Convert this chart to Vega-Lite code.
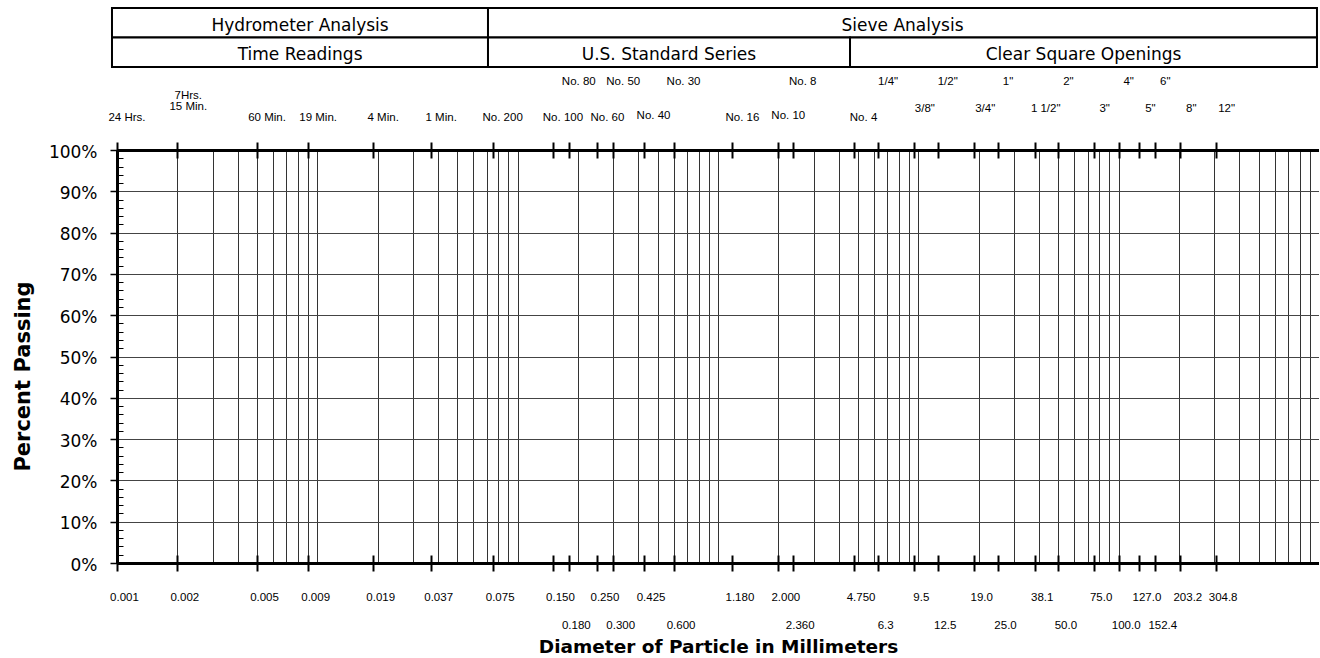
{
  "$schema": "https://vega.github.io/schema/vega-lite/v6.json",
  "background": "white",
  "padding": {"left": 12, "top": 7, "right": 0, "bottom": 0},
  "config": {"view": {"stroke": null}},
  "spacing": 83,
  "bounds": "flush",
  "datasets": {
    "header": [
      {"row": "r1", "start": 0.000944, "end": 0.0711, "mid": 0.0082, "title": "Hydrometer Analysis"},
      {"row": "r1", "start": 0.0711, "end": 977, "mid": 8.34, "title": "Sieve Analysis"},
      {"row": "r2", "start": 0.000944, "end": 0.0711, "mid": 0.0082, "title": "Time Readings"},
      {"row": "r2", "start": 0.0711, "end": 4.56, "mid": 0.569, "title": "U.S. Standard Series"},
      {"row": "r2", "start": 4.56, "end": 977, "mid": 66.8, "title": "Clear Square Openings"}
    ],
    "toplabels": [
      {"mm": 0.18, "label": "No. 80", "row": "u"},
      {"mm": 0.3, "label": "No. 50", "row": "u"},
      {"mm": 0.6, "label": "No. 30", "row": "u"},
      {"mm": 2.36, "label": "No. 8", "row": "u"},
      {"mm": 6.3, "label": "1/4\"", "row": "u"},
      {"mm": 12.5, "label": "1/2\"", "row": "u"},
      {"mm": 25, "label": "1\"", "row": "u"},
      {"mm": 50, "label": "2\"", "row": "u"},
      {"mm": 100, "label": "4\"", "row": "u"},
      {"mm": 152.4, "label": "6\"", "row": "u"},
      {"mm": 0.002, "label": "7Hrs.", "row": "h1"},
      {"mm": 0.002, "label": "15 Min.", "row": "h2"},
      {"mm": 9.5, "label": "3/8\"", "row": "sq"},
      {"mm": 19, "label": "3/4\"", "row": "sq"},
      {"mm": 38.1, "label": "1 1/2\"", "row": "sq"},
      {"mm": 75, "label": "3\"", "row": "sq"},
      {"mm": 127, "label": "5\"", "row": "sq"},
      {"mm": 203.2, "label": "8\"", "row": "sq"},
      {"mm": 304.8, "label": "12\"", "row": "sq"},
      {"mm": 0.425, "label": "No. 40", "row": "c"},
      {"mm": 2.0, "label": "No. 10", "row": "c"},
      {"mm": 0.001, "label": "24 Hrs.", "row": "b"},
      {"mm": 0.005, "label": "60 Min.", "row": "b"},
      {"mm": 0.009, "label": "19 Min.", "row": "b"},
      {"mm": 0.019, "label": "4 Min.", "row": "b"},
      {"mm": 0.037, "label": "1 Min.", "row": "b"},
      {"mm": 0.075, "label": "No. 200", "row": "b"},
      {"mm": 0.15, "label": "No. 100", "row": "b"},
      {"mm": 0.25, "label": "No. 60", "row": "b"},
      {"mm": 1.18, "label": "No. 16", "row": "b"},
      {"mm": 4.75, "label": "No. 4", "row": "b"}
    ],
    "bottomlabels": [
      {"mm": 0.001, "label": "0.001", "row": 1},
      {"mm": 0.002, "label": "0.002", "row": 1},
      {"mm": 0.005, "label": "0.005", "row": 1},
      {"mm": 0.009, "label": "0.009", "row": 1},
      {"mm": 0.019, "label": "0.019", "row": 1},
      {"mm": 0.037, "label": "0.037", "row": 1},
      {"mm": 0.075, "label": "0.075", "row": 1},
      {"mm": 0.15, "label": "0.150", "row": 1},
      {"mm": 0.25, "label": "0.250", "row": 1},
      {"mm": 0.425, "label": "0.425", "row": 1},
      {"mm": 1.18, "label": "1.180", "row": 1},
      {"mm": 2.0, "label": "2.000", "row": 1},
      {"mm": 4.75, "label": "4.750", "row": 1},
      {"mm": 9.5, "label": "9.5", "row": 1},
      {"mm": 19, "label": "19.0", "row": 1},
      {"mm": 38.1, "label": "38.1", "row": 1},
      {"mm": 75, "label": "75.0", "row": 1},
      {"mm": 127, "label": "127.0", "row": 1},
      {"mm": 203.2, "label": "203.2", "row": 1},
      {"mm": 304.8, "label": "304.8", "row": 1},
      {"mm": 0.18, "label": "0.180", "row": 2},
      {"mm": 0.3, "label": "0.300", "row": 2},
      {"mm": 0.6, "label": "0.600", "row": 2},
      {"mm": 2.36, "label": "2.360", "row": 2},
      {"mm": 6.3, "label": "6.3", "row": 2},
      {"mm": 12.5, "label": "12.5", "row": 2},
      {"mm": 25, "label": "25.0", "row": 2},
      {"mm": 50, "label": "50.0", "row": 2},
      {"mm": 100, "label": "100.0", "row": 2},
      {"mm": 152.4, "label": "152.4", "row": 2}
    ]
  },
  "vconcat": [
    {
      "width": 1202,
      "height": 59,
      "data": {"name": "header"},
      "layer": [
        {
          "mark": {"type": "rect", "fill": "white", "stroke": "black", "strokeWidth": 2},
          "encoding": {
            "x": {"field": "start", "type": "quantitative", "scale": {"type": "log", "domain": [0.001, 1000], "nice": false}, "axis": null},
            "x2": {"field": "end"},
            "y": {"field": "row", "type": "nominal", "scale": {"domain": ["r1", "r2"], "paddingInner": 0, "paddingOuter": 0}, "axis": null}
          }
        },
        {
          "mark": {"type": "text", "font": "DejaVu Sans", "fontSize": 17, "color": "black", "baseline": "middle", "align": "center", "dy": 3},
          "encoding": {
            "x": {"field": "mid", "type": "quantitative", "scale": {"type": "log", "domain": [0.001, 1000], "nice": false}, "axis": null},
            "y": {"field": "row", "type": "nominal", "scale": {"domain": ["r1", "r2"], "paddingInner": 0, "paddingOuter": 0}, "axis": null},
            "text": {"field": "title"}
          }
        }
      ]
    },
    {
      "width": 1202,
      "height": 413,
      "resolve": {"axis": {"x": "independent", "y": "independent"}},
      "layer": [
        {
          "data": {"name": "toplabels"},
          "transform": [{"filter": "datum.row == 'u'"}],
          "mark": {"type": "text", "font": "Liberation Sans", "fontSize": 11.5, "color": "black", "align": "center", "baseline": "alphabetic", "dx": 10, "dy": -64.9},
          "encoding": {
            "x": {"field": "mm", "type": "quantitative", "scale": {"type": "log", "domain": [0.001, 1000], "nice": false},
              "axis": {"orient": "bottom", "values": [0.002,0.003,0.004,0.005,0.006,0.007,0.008,0.009,0.01,0.02,0.03,0.04,0.05,0.06,0.07,0.08,0.09,0.1,0.2,0.3,0.4,0.5,0.6,0.7,0.8,0.9,1,2,3,4,5,6,7,8,9,10,20,30,40,50,60,70,80,90,100,200,300,400,500,600,700,800,900,1000],
                "grid": true, "gridColor": "#333333", "gridWidth": 1, "gridOpacity": 1, "ticks": false, "labels": false, "domain": false, "title": null, "zindex": 0}},
            "y": {"datum": 100, "type": "quantitative", "scale": {"domain": [0, 100], "nice": false, "zero": false},
              "axis": {"orient": "left", "values": [10,20,30,40,50,60,70,80,90], "grid": true, "gridColor": "#444444", "gridWidth": 1, "gridOpacity": 1, "ticks": false, "labels": false, "domain": false, "title": null, "zindex": 0}},
            "text": {"field": "label"}
          }
        },
        {
          "data": {"name": "toplabels"},
          "transform": [{"filter": "datum.row == 'h1'"}],
          "mark": {"type": "text", "font": "Liberation Sans", "fontSize": 11.5, "color": "black", "align": "center", "baseline": "alphabetic", "dx": 11, "dy": -50.6},
          "encoding": {
            "x": {"field": "mm", "type": "quantitative", "scale": {"type": "log", "domain": [0.001, 1000], "nice": false},
              "axis": {"orient": "bottom", "grid": false, "ticks": false, "labels": false, "domain": true, "domainColor": "black", "domainWidth": 3,
                "title": "Diameter of Particle in Millimeters", "titleFont": "DejaVu Sans", "titleFontSize": 18.5, "titleFontWeight": "bold", "titleColor": "black", "titleY": 89, "titleBaseline": "alphabetic", "zindex": 1}},
            "y": {"datum": 100, "type": "quantitative", "scale": {"domain": [0, 100], "nice": false, "zero": false},
              "axis": {"orient": "left", "values": [0,10,20,30,40,50,60,70,80,90,100], "grid": false, "ticks": true, "tickSize": 7, "tickWidth": 1.5, "tickColor": "black",
                "labels": true, "labelFont": "DejaVu Sans", "labelFontSize": 17, "labelColor": "black", "labelPadding": 13, "labelOffset": 2, "labelFlush": false, "labelExpr": "datum.value + '%'",
                "domain": true, "domainColor": "black", "domainWidth": 3,
                "title": "Percent Passing", "titleFont": "DejaVu Sans", "titleFontSize": 21, "titleFontWeight": "bold", "titleColor": "black", "titleX": -94, "titleY": 226, "titleAngle": 270, "titleAlign": "center", "titleBaseline": "middle", "zindex": 1}},
            "text": {"field": "label"}
          }
        },
        {
          "data": {"name": "toplabels"},
          "transform": [{"filter": "datum.row == 'h2'"}],
          "mark": {"type": "text", "font": "Liberation Sans", "fontSize": 11.5, "color": "black", "align": "center", "baseline": "alphabetic", "dx": 11, "dy": -39.9},
          "encoding": {
            "x": {"field": "mm", "type": "quantitative", "scale": {"type": "log", "domain": [0.001, 1000], "nice": false},
              "axis": {"orient": "top", "grid": false, "ticks": false, "labels": false, "domain": true, "domainColor": "black", "domainWidth": 3, "title": null, "zindex": 1}},
            "y": {"datum": 100, "type": "quantitative", "scale": {"domain": [0, 100], "nice": false, "zero": false},
              "axis": {"orient": "left", "values": [2,4,6,8,12,14,16,18,22,24,26,28,32,34,36,38,42,44,46,48,52,54,56,58,62,64,66,68,72,74,76,78,82,84,86,88,92,94,96,98],
                "offset": -6, "tickSize": 6, "tickWidth": 1, "tickColor": "black", "ticks": true, "labels": false, "domain": false, "grid": false, "title": null, "zindex": 1}},
            "text": {"field": "label"}
          }
        },
        {
          "data": {"name": "toplabels"},
          "transform": [{"filter": "datum.row == 'sq'"}],
          "mark": {"type": "text", "font": "Liberation Sans", "fontSize": 11.5, "color": "black", "align": "center", "baseline": "alphabetic", "dx": 11, "dy": -37.6},
          "encoding": {
            "x": {"field": "mm", "type": "quantitative", "scale": {"type": "log", "domain": [0.001, 1000], "nice": false},
              "axis": {"orient": "top", "values": [0.001,0.002,0.005,0.009,0.019,0.037,0.075,0.15,0.18,0.25,0.3,0.425,0.6,1.18,2,2.36,4.75,6.3,9.5,12.5,19,25,38.1,50,75,100,127,152.4,203.2,304.8],
                "offset": -8, "tickSize": 16, "tickWidth": 2, "tickColor": "black", "ticks": true, "labels": false, "domain": false, "grid": false, "title": null, "zindex": 1}},
            "y": {"datum": 100, "type": "quantitative", "scale": {"domain": [0, 100], "nice": false, "zero": false}, "axis": null},
            "text": {"field": "label"}
          }
        },
        {
          "data": {"name": "toplabels"},
          "transform": [{"filter": "datum.row == 'c'"}],
          "mark": {"type": "text", "font": "Liberation Sans", "fontSize": 11.5, "color": "black", "align": "center", "baseline": "alphabetic", "dx": 10, "dy": -30.9},
          "encoding": {
            "x": {"field": "mm", "type": "quantitative", "scale": {"type": "log", "domain": [0.001, 1000], "nice": false},
              "axis": {"orient": "bottom", "values": [0.001,0.002,0.005,0.009,0.019,0.037,0.075,0.15,0.18,0.25,0.3,0.425,0.6,1.18,2,2.36,4.75,6.3,9.5,12.5,19,25,38.1,50,75,100,127,152.4,203.2,304.8],
                "offset": -8, "tickSize": 16, "tickWidth": 2, "tickColor": "black", "ticks": true, "labels": false, "domain": false, "grid": false, "title": null, "zindex": 1}},
            "y": {"datum": 100, "type": "quantitative", "scale": {"domain": [0, 100], "nice": false, "zero": false}, "axis": null},
            "text": {"field": "label"}
          }
        },
        {
          "data": {"name": "toplabels"},
          "transform": [{"filter": "datum.row == 'b'"}],
          "mark": {"type": "text", "font": "Liberation Sans", "fontSize": 11.5, "color": "black", "align": "center", "baseline": "alphabetic", "dx": 10, "dy": -28.6},
          "encoding": {
            "x": {"field": "mm", "type": "quantitative", "scale": {"type": "log", "domain": [0.001, 1000], "nice": false}, "axis": null},
            "y": {"datum": 100, "type": "quantitative", "scale": {"domain": [0, 100], "nice": false, "zero": false}, "axis": null},
            "text": {"field": "label"}
          }
        },
        {
          "data": {"name": "bottomlabels"},
          "transform": [{"filter": "datum.row == 1"}],
          "mark": {"type": "text", "font": "Liberation Sans", "fontSize": 11.5, "color": "black", "align": "center", "baseline": "alphabetic", "dx": 7.5, "dy": 38},
          "encoding": {
            "x": {"field": "mm", "type": "quantitative", "scale": {"type": "log", "domain": [0.001, 1000], "nice": false}, "axis": null},
            "y": {"datum": 0, "type": "quantitative", "scale": {"domain": [0, 100], "nice": false, "zero": false}, "axis": null},
            "text": {"field": "label"}
          }
        },
        {
          "data": {"name": "bottomlabels"},
          "transform": [{"filter": "datum.row == 2"}],
          "mark": {"type": "text", "font": "Liberation Sans", "fontSize": 11.5, "color": "black", "align": "center", "baseline": "alphabetic", "dx": 7.5, "dy": 66},
          "encoding": {
            "x": {"field": "mm", "type": "quantitative", "scale": {"type": "log", "domain": [0.001, 1000], "nice": false}, "axis": null},
            "y": {"datum": 0, "type": "quantitative", "scale": {"domain": [0, 100], "nice": false, "zero": false}, "axis": null},
            "text": {"field": "label"}
          }
        }
      ]
    }
  ]
}
